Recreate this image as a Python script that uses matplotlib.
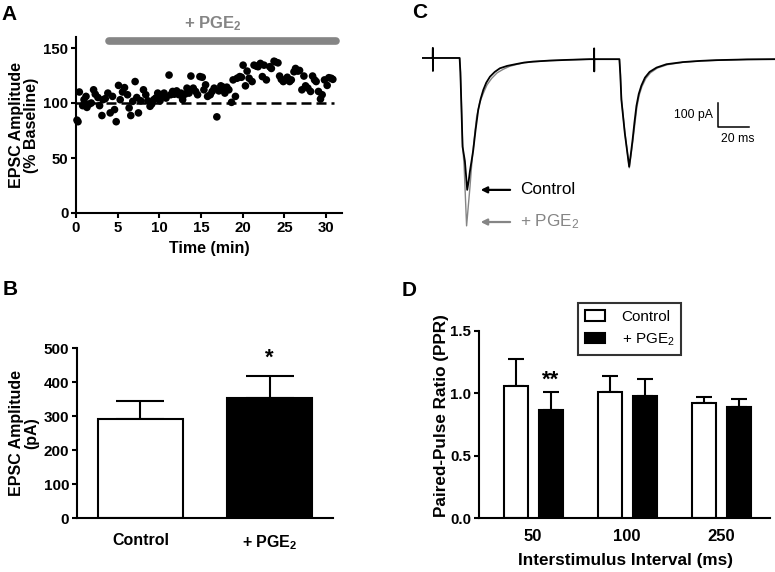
import matplotlib
matplotlib.use('Agg')
import matplotlib.pyplot as plt

plt.rcParams['font.family'] = ['Liberation Sans', 'DejaVu Sans']
plt.rcParams['mathtext.fontset'] = 'custom'
plt.rcParams['mathtext.rm'] = 'Liberation Sans'
plt.rcParams['mathtext.bf'] = 'Liberation Sans:bold'
plt.rcParams['mathtext.it'] = 'Liberation Sans:italic'

# ---------------- DATA ----------------
# Panel A: EPSC amplitude (% baseline) over time (min)
time_min = [0.12, 0.24, 0.40, 0.80, 0.96, 1.20, 1.31, 1.59, 1.83, 2.11, 2.31, 2.63, 2.83,
            3.11, 3.23, 3.51, 3.82, 4.10, 4.38, 4.62, 4.82, 5.10, 5.30, 5.58, 5.82,
            6.18, 6.37, 6.57, 6.81, 7.09, 7.29, 7.49, 7.77, 8.09, 8.37, 8.61, 8.88,
            9.08, 9.32, 9.56, 9.80, 10.08, 10.28, 10.56, 10.80, 11.16, 11.35, 11.59, 11.79,
            12.07, 12.35, 12.59, 12.79, 13.07, 13.31, 13.55, 13.78, 14.06, 14.34, 14.58, 14.86,
            15.14, 15.34, 15.54, 15.78, 16.10, 16.33, 16.57, 16.89, 17.13, 17.37, 17.65, 17.85,
            18.09, 18.33, 18.65, 18.84, 19.12, 19.32, 19.64, 19.84, 20.04, 20.32, 20.52, 20.76,
            21.12, 21.35, 21.63, 21.83, 22.11, 22.35, 22.55, 22.83, 23.23, 23.43, 23.75, 23.90,
            24.22, 24.42, 24.62, 24.86, 25.10, 25.34, 25.62, 25.82, 26.14, 26.33, 26.61, 26.81,
            27.09, 27.33, 27.53, 27.81, 28.13, 28.37, 28.61, 28.80, 29.08, 29.32, 29.52, 29.80,
            30.12, 30.32, 30.60, 30.80]
epsc_pct = [84.4, 83.0, 110.0, 97.6, 103.0, 106.0, 96.0, 99.0, 100.0, 112.0, 108.0, 105.0, 97.6,
            88.6, 103.0, 104.0, 109.0, 91.0, 106.0, 94.0, 83.0, 116.0, 103.0, 110.0, 114.0,
            107.5, 95.5, 88.6, 101.5, 119.5, 105.0, 91.0, 102.0, 112.0, 107.5, 102.0, 97.0,
            99.0, 103.0, 104.5, 109.0, 102.0, 106.0, 109.0, 104.5, 125.4, 107.5, 110.5, 108.0,
            111.0, 107.5, 109.0, 103.0, 108.0, 113.5, 109.0, 124.5, 113.5, 110.5, 107.5, 124.0,
            123.4, 112.0, 116.5, 106.0, 107.5, 110.5, 113.5, 87.4, 111.0, 115.6, 114.4, 109.0,
            114.4, 112.0, 100.6, 121.0, 106.0, 122.5, 124.0, 123.4, 134.4, 115.6, 129.0, 122.5,
            119.5, 134.4, 133.5, 133.0, 136.0, 124.0, 134.4, 121.0, 133.0, 131.4, 138.0, 137.4,
            136.5, 124.5, 121.5, 119.5, 121.0, 123.4, 119.5, 121.0, 128.4, 131.4, 129.0, 129.6,
            112.0, 124.5, 115.6, 113.5, 110.5, 124.5, 121.0, 119.5, 110.5, 103.6, 107.5, 121.0,
            116.0, 123.0, 122.5, 121.5]
pge_start, pge_end = 4.0, 31.2

# Panel B: EPSC amplitude (pA)
b_groups = ['Control', '+ PGE$_\\mathbf{2}$']
b_means = [292, 352]
b_sem = [53, 66]

# Panel C: representative traces (ms, pA), key points
ctrl_t = [0, 6.9, 7.0, 7.05, 7.1, 24.3, 24.8, 25.4, 26.2, 27.7, 29.2, 30.2, 31.0, 32.0, 33.1,
          34.6, 36.3, 37.9, 39.6, 41.5, 43.9, 47.0, 50.3, 55.0, 61.1, 66.0, 71.8, 82.0, 93.4,
          108.4, 111.1, 111.2, 111.25, 111.3, 127.5, 128.1, 128.8, 131.0, 133.8, 134.9, 136.0,
          137.2, 138.5, 140.0, 141.7, 144.0, 147.0, 151.5, 157.9, 168.6, 180.0, 190.0, 210.0, 228.0]
ctrl_i = [0, 0, 42, -54, 0, 0, -60, -190, -370, -430, -550, -510, -470, -430, -384,
          -300, -217, -170, -133, -103, -78, -58, -43, -33, -25, -19, -15, -11, -8,
          -5, -5, 40, -56, -5, -5, -70, -175, -314, -453, -400, -342,
          -270, -200, -150, -115, -82, -58, -40, -26, -17, -12, -9, -6, -5]
pge_t = [0, 6.9, 7.0, 7.05, 7.1, 24.3, 24.8, 25.4, 26.2, 27.2, 28.8, 30.0, 31.0, 32.0, 33.5,
         35.3, 37.3, 39.6, 42.0, 45.0, 48.5, 52.5, 56.5, 61.1, 66.0, 71.8, 82.0, 93.4,
         108.4, 111.1, 111.2, 111.25, 111.3, 127.5, 128.1, 128.8, 131.0, 133.9, 135.0, 136.2,
         137.5, 138.8, 140.3, 142.0, 144.5, 147.5, 152.0, 158.5, 168.6, 180.0, 190.0, 210.0, 228.0]
pge_i = [0, 0, 42, -54, 0, 0, -55, -180, -360, -450, -700, -610, -537, -453, -350,
         -245, -185, -147, -112, -85, -62, -47, -35, -27, -20, -16, -11, -8,
         -5, -5, 40, -56, -5, -5, -65, -170, -310, -458, -405, -345,
         -275, -205, -155, -120, -86, -62, -42, -28, -18, -12, -10, -6, -5]

# Panel D: paired-pulse ratio
d_intervals = ['50', '100', '250']
d_ctrl = [1.062, 1.014, 0.921]
d_ctrl_sem = [0.211, 0.126, 0.053]
d_pge = [0.867, 0.982, 0.889]
d_pge_sem = [0.142, 0.131, 0.067]

# ---------------- FIGURE ----------------
W, H = 775, 572
fig = plt.figure(figsize=(7.75, 5.72), dpi=100)


def rect(l, t, r, b):
    return [l / W, 1 - b / H, (r - l) / W, (b - t) / H]


def style(ax, fs):
    for s in ['top', 'right']:
        ax.spines[s].set_visible(False)
    for s in ['left', 'bottom']:
        ax.spines[s].set_linewidth(1.5)
    ax.tick_params(width=1.5, length=3.5, labelsize=fs, pad=2)
    for lab in ax.get_xticklabels() + ax.get_yticklabels():
        lab.set_fontweight('bold')


GRAY = '#858585'

# ---- Panel A ----
axA = fig.add_axes(rect(76, 37, 342, 213))
axA.scatter(time_min, epsc_pct, s=30, color='black', edgecolors='none', zorder=3, clip_on=False)
axA.axhline(100, xmin=0, xmax=31.0 / 31.9, color='black', lw=1.8, dashes=(4, 2), zorder=2)
axA.plot([pge_start, pge_end], [156, 156], lw=5.5, color=GRAY, solid_capstyle='round', clip_on=False)
axA.set_xlim(0, 31.9)
axA.set_ylim(0, 160)
axA.set_xticks([0, 5, 10, 15, 20, 25, 30])
axA.set_yticks([0, 50, 100, 150])
style(axA, 10.8)
fig.text(213 / W, 1 - 24 / H, '+ PGE$_\\mathbf{2}$', color=GRAY, fontsize=12, fontweight='bold',
         ha='center', va='center')
fig.text(24 / W, 1 - 125 / H, 'EPSC Amplitude\n(% Baseline)', rotation=90, fontsize=11.5,
         fontweight='bold', ha='center', va='center', linespacing=1.05)
fig.text(209 / W, 1 - 249 / H, 'Time (min)', fontsize=11.5, fontweight='bold', ha='center', va='center')
fig.text(1 / W, 1 - 20 / H, 'A', fontsize=15, fontweight='bold')

# ---- Panel B ----
axB = fig.add_axes(rect(77, 348, 333, 518))
xb = [0, 1]
axB.bar(xb, b_means, width=0.66, color=['white', 'black'], edgecolor='black', linewidth=1.5, zorder=2)
axB.errorbar(xb, b_means, yerr=[[0, 0], b_sem], fmt='none', ecolor='black', elinewidth=1.5,
             capsize=17, capthick=1.5, zorder=1)
axB.set_xlim(-0.492, 1.492)
axB.set_ylim(0, 500)
axB.set_yticks([0, 100, 200, 300, 400, 500])
axB.set_xticks(xb)
axB.set_xticklabels(b_groups)
style(axB, 11)
axB.tick_params(axis='x', length=0, pad=11, labelsize=11.5)
axB.text(1, 470, '*', ha='center', va='center', fontsize=16, fontweight='bold')
fig.text(24 / W, 1 - 433 / H, 'EPSC Amplitude\n(pA)', rotation=90, fontsize=11.5,
         fontweight='bold', ha='center', va='center', linespacing=1.05)
fig.text(3 / W, 1 - 295 / H, 'B', fontsize=15, fontweight='bold')

# ---- Panel C ----
axC = fig.add_axes(rect(422, 40, 775, 240))
axC.plot(pge_t, pge_i, color=GRAY, lw=1.0)
axC.plot(ctrl_t, ctrl_i, color='black', lw=1.3)
axC.set_xlim(0, 228)
axC.set_ylim(-759, 75)
axC.axis('off')
axC.plot([191, 191, 211], [-188, -288, -288], color='black', lw=1.1)
axC.text(188, -238, '100 pA', ha='right', va='center', fontsize=8.8)
axC.text(204, -338, '20 ms', ha='center', va='center', fontsize=8.8)
axC.annotate('', xy=(36.1, -550), xytext=(58.7, -550),
             arrowprops=dict(arrowstyle='-|>', color='black', lw=1.6, mutation_scale=9))
axC.text(63.2, -550, 'Control', ha='left', va='center', fontsize=12.3)
axC.annotate('', xy=(36.1, -684), xytext=(58.7, -684),
             arrowprops=dict(arrowstyle='-|>', color=GRAY, lw=1.6, mutation_scale=9))
axC.text(63.2, -684, '+ PGE$_2$', ha='left', va='center', fontsize=12.3, color=GRAY)
fig.text(412 / W, 1 - 18 / H, 'C', fontsize=15, fontweight='bold')

# ---- Panel D ----
axD = fig.add_axes(rect(479, 331, 770, 518))
xd = [0, 1, 2]
off = 0.186
bw = 0.255
xc = [x - off for x in xd]
xp = [x + off for x in xd]
axD.bar(xc, d_ctrl, width=bw, color='white', edgecolor='black', linewidth=1.5, zorder=2, label='Control')
axD.bar(xp, d_pge, width=bw, color='black', edgecolor='black', linewidth=1.5, zorder=2, label='+ PGE$_2$')
axD.errorbar(xc, d_ctrl, yerr=[[0] * 3, d_ctrl_sem], fmt='none', ecolor='black', elinewidth=1.5,
             capsize=6, capthick=1.5, zorder=1)
axD.errorbar(xp, d_pge, yerr=[[0] * 3, d_pge_sem], fmt='none', ecolor='black', elinewidth=1.5,
             capsize=6, capthick=1.5, zorder=1)
axD.set_xlim(-0.574, 2.516)
axD.set_ylim(0, 1.5)
axD.set_yticks([0.0, 0.5, 1.0, 1.5])
axD.set_yticklabels(['0.0', '0.5', '1.0', '1.5'])
axD.set_xticks(xd)
axD.set_xticklabels(d_intervals)
style(axD, 10.8)
axD.tick_params(axis='x', length=0, pad=8, labelsize=12)
axD.text(xp[0], 1.107, '**', ha='center', va='center', fontsize=16, fontweight='bold')
leg = axD.legend(loc='upper left', bbox_to_anchor=(578 / W, 1 - 303 / H),
                 bbox_transform=fig.transFigure, frameon=True, fancybox=False, fontsize=11,
                 handlelength=1.3, handleheight=0.65, handletextpad=1.1, labelspacing=0.5,
                 borderpad=0.45, borderaxespad=0)
leg.get_frame().set_edgecolor('black')
leg.get_frame().set_linewidth(1.5)
fig.text(441 / W, 1 - 416 / H, 'Paired-Pulse Ratio (PPR)', rotation=90, fontsize=12.3,
         fontweight='bold', ha='center', va='center')
fig.text(626 / W, 1 - 560 / H, 'Interstimulus Interval (ms)', fontsize=12.3,
         fontweight='bold', ha='center', va='center')
fig.text(402 / W, 1 - 296 / H, 'D', fontsize=15, fontweight='bold')

fig.savefig('out.png', dpi=100)
